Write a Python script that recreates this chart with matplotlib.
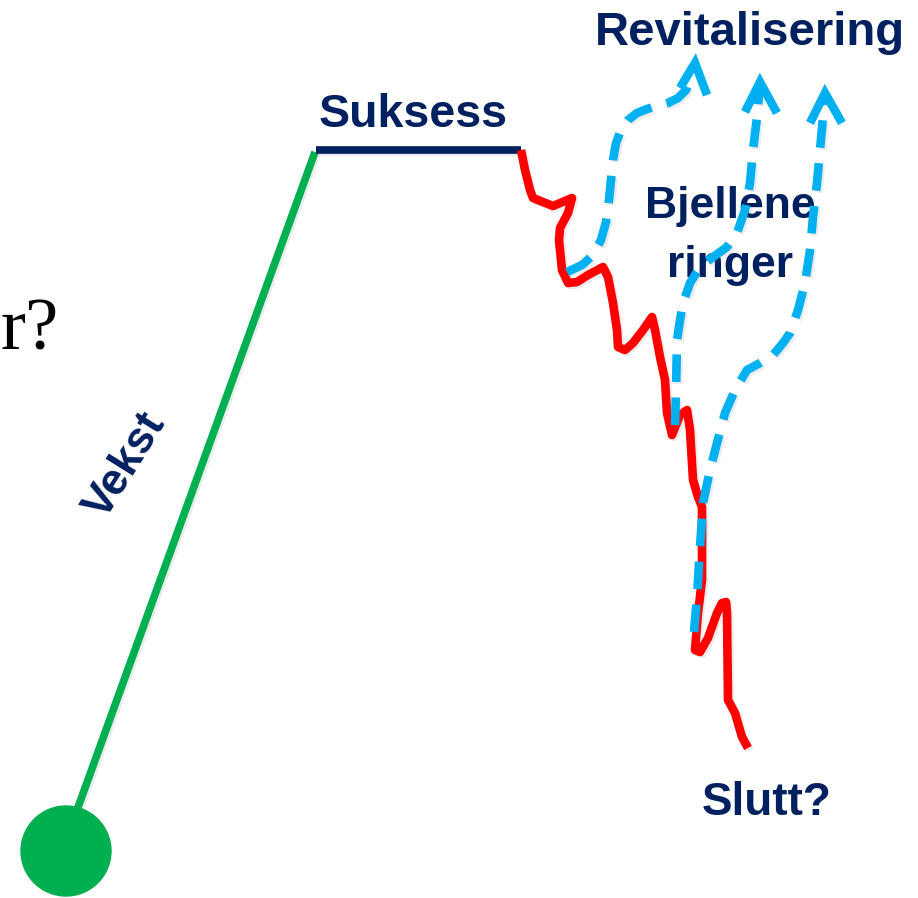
import matplotlib.pyplot as plt
import matplotlib.patheffects as pe

# Farger (Office-palett)
navy = "#002060"
green = "#00B050"
red = "#FF0000"
blue = "#00B0F0"

# Vekst: grønn linje fra startpunkt til toppen
growth_x = [68, 315]
growth_y = [835, 152]
start_point = (66, 851)
start_radius = 45

# Suksess: platå
plateau_x = [316, 521]
plateau_y = [150, 150]

# Fall: rød hakkete linje
decline_x = [521, 525, 530, 533, 543, 553, 572, 568, 560, 559, 562, 568, 577,
             588, 603, 608, 613, 617, 618, 625, 633, 643, 652, 655, 660, 665,
             667, 672, 680, 687, 690, 693, 698, 702, 702, 698, 695, 700, 708,
             717, 722, 726, 727, 728, 735, 742, 748]
decline_y = [150, 170, 190, 198, 202, 206, 198, 213, 228, 240, 270, 283, 282,
             275, 267, 277, 303, 330, 347, 350, 343, 330, 317, 330, 357, 380,
             413, 435, 415, 410, 430, 480, 497, 507, 580, 613, 650, 652, 638,
             613, 603, 602, 613, 700, 713, 737, 748]

# Revitalisering: tre stiplede piler
revit1_x = [567, 582, 593, 601, 606, 609, 611, 613, 616, 621, 628, 637, 647,
            657, 668, 678, 686, 691, 695]
revit1_y = [272, 265, 255, 240, 222, 200, 180, 160, 143, 130, 120, 113, 109,
            106, 103, 98, 90, 79, 66]
head1_x = [680, 695, 707]
head1_y = [88, 63, 95]

revit2_x = [675, 676, 677, 680, 683, 690, 700, 713, 727, 737, 745, 750, 753, 757, 760]
revit2_y = [425, 390, 340, 320, 303, 283, 267, 257, 247, 233, 210, 183, 150, 117, 84]
head2_x = [745, 760, 777]
head2_y = [112, 82, 113]

revit3_x = [694, 697, 700, 703, 710, 717, 725, 735, 747, 760, 773, 783, 790,
            798, 805, 810, 813, 817, 820, 823, 824]
revit3_y = [632, 597, 547, 503, 470, 443, 413, 390, 370, 363, 355, 343, 333,
            310, 283, 250, 217, 183, 150, 117, 96]
head3_x = [810, 825, 842]
head3_y = [123, 93, 123]

fig = plt.figure(figsize=(9.18, 8.98), dpi=100)
ax = fig.add_axes([0, 0, 1, 1])
ax.set_xlim(0, 918)
ax.set_ylim(898, 0)
ax.axis("off")

shadow = [pe.SimpleLineShadow(offset=(1.5, -1.5), alpha=0.15, shadow_color="gray"),
          pe.Normal()]

ax.plot(growth_x, growth_y, color=green, lw=5.5, solid_capstyle="butt",
        path_effects=shadow, zorder=2)
ax.add_patch(plt.Circle(start_point, start_radius, color=green, zorder=3))
ax.plot(plateau_x, plateau_y, color=navy, lw=5.5, solid_capstyle="butt",
        path_effects=shadow, zorder=2)
ax.plot(decline_x, decline_y, color=red, lw=6.2, solid_joinstyle="round",
        solid_capstyle="butt", path_effects=shadow, zorder=3)

for xs, ys, hx, hy in [(revit1_x, revit1_y, head1_x, head1_y),
                       (revit2_x, revit2_y, head2_x, head2_y),
                       (revit3_x, revit3_y, head3_x, head3_y)]:
    ax.plot(xs, ys, color=blue, lw=6.2, linestyle=(0, (3.2, 1.8)),
            dash_capstyle="butt", path_effects=shadow, zorder=4)
    ax.plot(hx, hy, color=blue, lw=6.2, solid_capstyle="butt",
            solid_joinstyle="miter", zorder=4)

font = ["Liberation Sans", "DejaVu Sans"]
ax.text(750, 45, "Revitalisering", color=navy, fontsize=34, fontweight="bold",
        family=font, ha="center", va="baseline")
ax.text(413, 127, "Suksess", color=navy, fontsize=33.5, fontweight="bold",
        family=font, ha="center", va="baseline")
ax.text(730, 218, "Bjellene", color=navy, fontsize=32, fontweight="bold",
        family=font, ha="center", va="baseline", zorder=3)
ax.text(730, 277, "ringer", color=navy, fontsize=32, fontweight="bold",
        family=font, ha="center", va="baseline", zorder=3)
ax.text(767, 815, "Slutt?", color=navy, fontsize=33, fontweight="bold",
        family=font, ha="center", va="baseline")
ax.text(126, 466, "Vekst", color=navy, fontsize=32, fontweight="bold",
        family=font, ha="center", va="center", rotation=58,
        rotation_mode="anchor")
ax.text(0, 350, "r?", color="black", fontsize=54,
        family=["Liberation Serif", "DejaVu Serif"], ha="left", va="baseline")

fig.savefig("out.png", dpi=100)
